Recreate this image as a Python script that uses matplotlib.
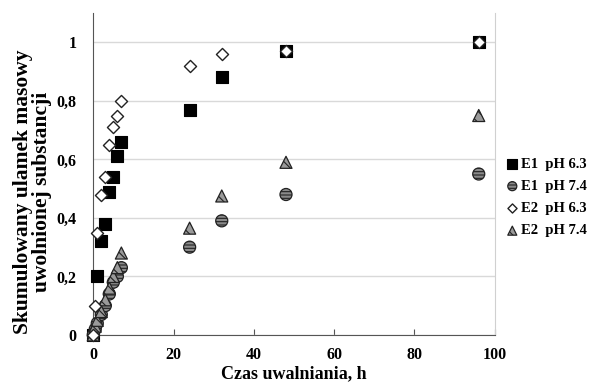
import matplotlib
matplotlib.use("Agg")
import matplotlib.pyplot as plt

plt.rcParams['font.family'] = ['Liberation Serif', 'DejaVu Serif']
plt.rcParams['font.weight'] = 'bold'
plt.rcParams['hatch.linewidth'] = 0.8

t = [0, 1, 2, 3, 4, 5, 6, 7, 24, 32, 48, 96]
e1_63 = [0, 0.20, 0.32, 0.38, 0.49, 0.54, 0.61, 0.66, 0.77, 0.88, 0.97, 1.00]
t_e2 = [0, 0.5, 1, 2, 3, 4, 5, 6, 7, 24, 32, 48, 96]
e2_63 = [0, 0.10, 0.35, 0.48, 0.54, 0.65, 0.71, 0.75, 0.80, 0.92, 0.96, 0.97, 1.00]
t_74 = [0, 0.5, 1, 2, 3, 4, 5, 6, 7, 24, 32, 48, 96]
e1_74 = [0, 0.02, 0.04, 0.07, 0.10, 0.14, 0.18, 0.20, 0.23, 0.30, 0.39, 0.48, 0.55]
e2_74 = [0, 0.03, 0.05, 0.08, 0.12, 0.16, 0.20, 0.23, 0.28, 0.365, 0.475, 0.59, 0.75]

labels = ['E1  pH 6.3', 'E1  pH 7.4', 'E2  pH 6.3', 'E2  pH 7.4']
xticks = [0, 20, 40, 60, 80, 100]
xticklabels = ['0', '20', '40', '60', '80', '100']
yticks = [0, 0.2, 0.4, 0.6, 0.8, 1.0]
yticklabels = ['0', '0,2', '0,4', '0,6', '0,8', '1']

fig = plt.figure(figsize=(5.94, 3.85), dpi=100)
ax = fig.add_axes([0.157, 0.130, 0.676, 0.836])

ax.scatter(t, e1_63, marker='s', s=75, facecolor='black', edgecolor='black',
           linewidths=0.8, label=labels[0], zorder=3, clip_on=False)
ax.scatter(t_74, e1_74, marker='o', s=75, facecolor='#8a8a8a', edgecolor='#222222',
           hatch='-----', linewidths=0.9, label=labels[1], zorder=4, clip_on=False)
ax.scatter(t_e2, e2_63, marker='D', s=38, facecolor='white', edgecolor='#222222',
           linewidths=1.0, label=labels[2], zorder=5, clip_on=False)
ax.scatter(t_74, e2_74, marker='^', s=75, facecolor='#9a9a9a', edgecolor='#222222',
           hatch='\\\\\\', linewidths=0.9, label=labels[3], zorder=4, clip_on=False)

ax.set_xlim(0, 100)
ax.set_ylim(0, 1.1)
ax.set_xticks(xticks, labels=xticklabels, fontweight='bold', fontsize=11.5)
ax.set_yticks(yticks, labels=yticklabels, fontweight='bold', fontsize=11.5)
ax.grid(axis='y', color='#d9d9d9', linewidth=1.0)
ax.set_axisbelow(True)

ax.spines['top'].set_visible(False)
ax.spines['right'].set_color('#d0d0d0')
ax.spines['left'].set_color('#555555')
ax.spines['bottom'].set_color('#555555')
ax.tick_params(axis='x', direction='in', length=4, color='#555555', pad=9)
ax.tick_params(axis='y', length=0, pad=12)

ax.set_xlabel('Czas uwalniania, h', fontsize=13, fontweight='bold', labelpad=1)
ax.set_ylabel('Skumulowany ulamek masowy\nuwolnionej substancji', fontsize=15.5,
              fontweight='bold', linespacing=0.95)
ax.yaxis.set_label_coords(-0.102, 0.446)

leg = ax.legend(loc='center left', bbox_to_anchor=(1.0, 0.427), frameon=False,
                handletextpad=0.1, handlelength=1.0, labelspacing=0.62,
                markerscale=0.75, borderaxespad=0.3,
                prop={'weight': 'bold', 'size': 10.5})

fig.savefig('out.png', dpi=100)
